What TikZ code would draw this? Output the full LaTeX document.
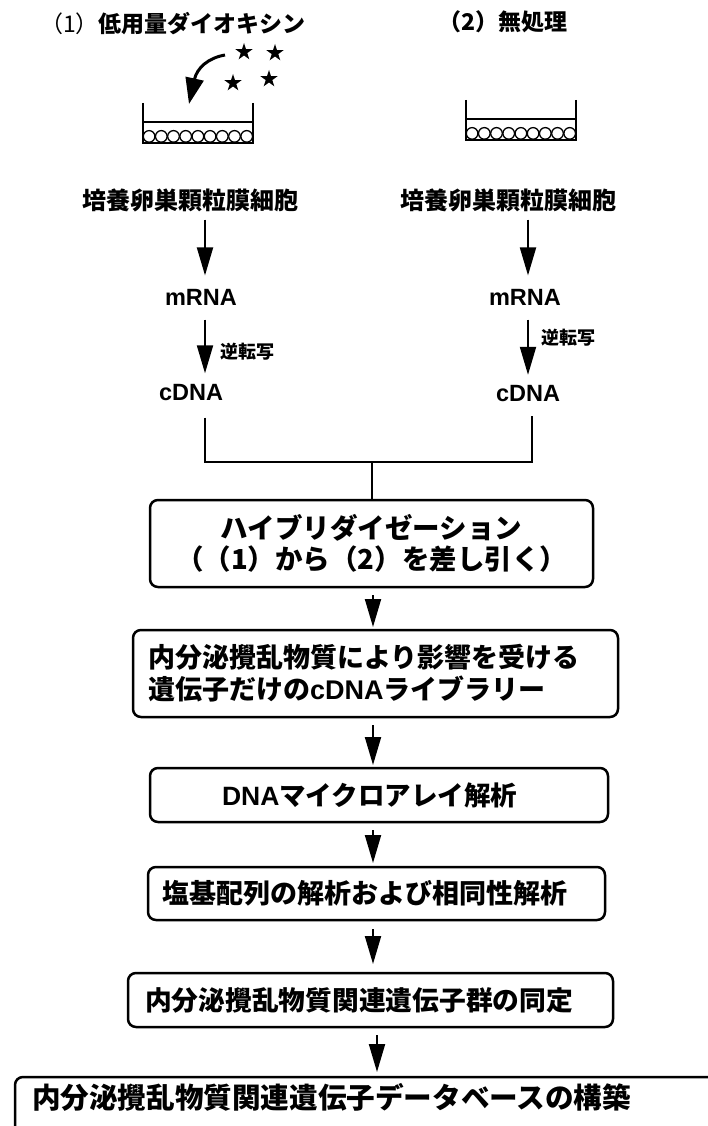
\documentclass[tikz,border=0pt]{standalone}
\usepackage{fontspec}
\newfontfamily\jp{Noto Sans CJK JP}
\newfontfamily\lat{Liberation Sans}
\usetikzlibrary{arrows.meta,shapes.geometric,calc}
\newcommand\fsz[2]{\fontsize{#1}{#2}\selectfont}
\newcommand\mydish[4]{%
  \draw[line width=1.5pt] (#1,#2) -- (#1,#4);
  \draw[line width=1.5pt] (#1+110,#2) -- (#1+110,#4);
  \draw[line width=1.5pt] (#1,#3) -- (#1+110,#3);
  \draw[line width=2.5pt] (#1-0.75,#4) -- (#1+110.75,#4);
  \foreach \i in {0,...,8} \draw[line width=1.3pt] (#1+6.1+12.2*\i,#4-6.6) circle[radius=5.8pt];
}
\begin{document}
\begin{tikzpicture}[x=1pt,y=-1pt,
  arr/.style={line width=2pt,-{Triangle[length=28pt,width=16pt]}},
  ln/.style={line width=2pt},
  box/.style={draw,line width=2.5pt,rounded corners=8pt,inner sep=0pt,outer sep=0pt},
  txt/.style={inner sep=0pt,outer sep=0pt},
  starn/.style={star,star points=5,star point ratio=2.6,fill=black,draw=none,inner sep=0pt,minimum size=18pt}]
\useasboundingbox (0,0) rectangle (708,1126);

% titles
\node[txt,font=\jp\fsz{23}{24}] (t1) at (173,23.5) {（1）{\bfseries 低用量ダイオキシン}};
\node[txt,font=\jp\bfseries\fsz{23}{24}] (t2) at (503,22) {（2）無処理};

% stars and curved arrow
\node[starn] (s1) at (244,52) {};
\node[starn] (s2) at (275,53) {};
\node[starn] (s3) at (233,83) {};
\node[starn] (s4) at (269,79) {};
\coordinate (ca) at (225,55);
\coordinate (cb) at (189,104);
\draw[line width=3pt,-{Triangle[length=26pt,width=18pt]}] (ca) .. controls (208,58) and (197,68) .. (cb);

% dishes
\mydish{143}{103}{122}{143}
\mydish{466}{100}{119}{140}

% cells
\node[txt,font=\jp\bfseries\fsz{24}{24}] (cellL) at (190,200) {培養卵巣顆粒膜細胞};
\node[txt,font=\jp\bfseries\fsz{24}{24}] (cellR) at (508,200) {培養卵巣顆粒膜細胞};
\node[txt,font=\lat\bfseries\fsz{23.5}{24}] (mL) at (201,297.5) {mRNA};
\node[txt,font=\lat\bfseries\fsz{23.5}{24}] (mR) at (525,297.5) {mRNA};
\node[txt,font=\lat\bfseries\fsz{23.5}{24}] (cL) at (191,392.5) {cDNA};
\node[txt,font=\lat\bfseries\fsz{23.5}{24}] (cR) at (528,394) {cDNA};
\node[txt,anchor=west,font=\jp\bfseries\fsz{18}{18}] (rtL) at (220,351.5) {逆転写};
\node[txt,anchor=west,font=\jp\bfseries\fsz{18}{18}] (rtR) at (541,337.5) {逆転写};

\coordinate (colL) at (205,0);
\coordinate (colR) at (528,0);
\coordinate (brR) at (532,0);
\coordinate (colM) at (373,0);
\coordinate (colD) at (377,0);
\coordinate (join) at (372,462);

\draw[arr] ($(cellL.south -| colL)+(0,8)$) -- ($(mL.north -| colL)+(0,-14)$);
\draw[arr] ($(mL.south -| colL)+(0,14)$) -- ($(cL.north -| colL)+(0,-11)$);
\draw[arr] ($(cellR.south -| colR)+(0,8)$) -- ($(mR.north -| colR)+(0,-14)$);
\draw[arr] ($(mR.south -| colR)+(0,14)$) -- ($(cR.north -| colR)+(0,-11)$);

% boxes
\node[box,minimum width=443pt,minimum height=87pt,align=center,font=\jp\bfseries\fsz{27.5}{31}] (hyb) at (371.5,543.5) {ハイブリダイゼーション\\（（1）から（2）を差し引く）};
\node[box,minimum height=87pt,inner xsep=15pt,text width=455pt,align=left,font=\jp\bfseries\fsz{27}{32}] (lib) at (375.5,673.5) {内分泌攪乱物質により影響を受ける\\遺伝子だけの{\lat cDNA}ライブラリー};
\node[box,minimum height=54pt,inner xsep=72pt,text width=314pt,align=left,font=\jp\bfseries\fsz{26.5}{30}] (dna) at (379,795) {{\lat DNA}マイクロアレイ解析};
\node[box,minimum height=53pt,inner xsep=14pt,text width=429pt,align=left,font=\jp\bfseries\fsz{27}{30}] (seq) at (376.5,893.5) {塩基配列の解析および相同性解析};
\node[box,minimum height=54pt,inner xsep=17pt,text width=451pt,align=left,font=\jp\bfseries\fsz{26.75}{30}] (ident) at (370.5,1000) {内分泌攪乱物質関連遺伝子群の同定};
\node[box,anchor=north west,inner xsep=17pt,inner ysep=8pt,text width=700pt,text height=23pt,text depth=60pt,align=left,font=\jp\bfseries\fsz{28.6}{30}] (db) at (15,1077) {内分泌攪乱物質関連遺伝子データベースの構築};

% bracket
\draw[ln] ($(cL.south -| colL)+(0,17)$) |- (join) -| ($(cR.south -| brR)+(0,14)$);
\draw[ln] (join) -- (hyb.north -| join);

% flow arrows
\draw[arr] ($(hyb.south -| colM)+(0,8)$) -- ($(lib.north -| colM)+(0,-3)$);
\draw[arr] ($(lib.south -| colM)+(0,8)$) -- ($(dna.north -| colM)+(0,-3)$);
\draw[arr] ($(dna.south -| colM)+(0,8)$) -- ($(seq.north -| colM)+(0,-4)$);
\draw[arr] ($(seq.south -| colM)+(0,9)$) -- ($(ident.north -| colM)+(0,-9)$);
\draw[arr] ($(ident.south -| colD)+(0,8)$) -- ($(db.north -| colD)+(0,-5)$);
\end{tikzpicture}
\end{document}
